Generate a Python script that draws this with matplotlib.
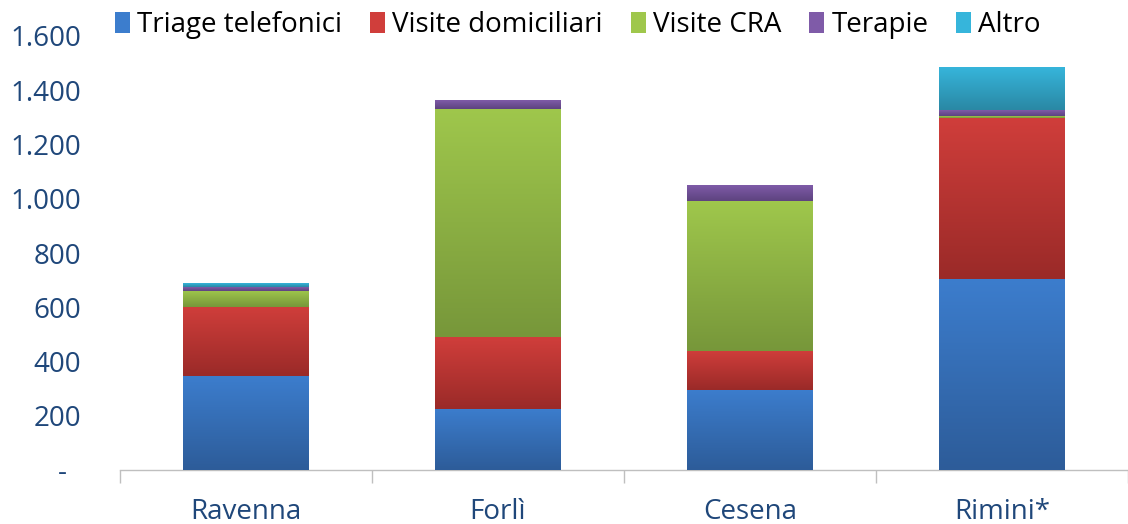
import matplotlib
matplotlib.use("Agg")
import matplotlib.pyplot as plt
import numpy as np
from matplotlib.colors import LinearSegmentedColormap
from matplotlib.patches import Patch

categories = ["Ravenna", "Forlì", "Cesena", "Rimini*"]
series_names = ["Triage telefonici", "Visite domiciliari", "Visite CRA", "Terapie", "Altro"]
triage = [346, 225, 295, 704]
visite_dom = [255, 265, 144, 595]
visite_cra = [59, 841, 552, 7]
terapie = [13, 33, 56, 22]
altro = [13, 0, 0, 157]
yticks = [0, 200, 400, 600, 800, 1000, 1200, 1400, 1600]

series = [triage, visite_dom, visite_cra, terapie, altro]
top_colors = ["#3C7DCD", "#D03E3B", "#9FC74C", "#7F5BA8", "#36B5DB"]
bot_colors = ["#2D5C99", "#9A2A28", "#77973A", "#5D437F", "#2A88A4"]

plt.rcParams['font.family'] = ['Open Sans', 'DejaVu Sans']

fig = plt.figure(figsize=(11.28, 5.24), dpi=100)
ax = fig.add_axes([120/1128, 1-470/524, 1-120/1128, (470-36)/524])

x = np.arange(len(categories))
width = 0.5
bottom = np.zeros(len(categories))
grad = np.linspace(1, 0, 256).reshape(-1, 1)
for vals, tc, bc, name in zip(series, top_colors, bot_colors, series_names):
    vals = np.array(vals, dtype=float)
    bars = ax.bar(x, vals, width, bottom=bottom, color=tc, label=name, zorder=2)
    cmap = LinearSegmentedColormap.from_list("g", [bc, tc])
    for b in bars:
        h = b.get_height()
        if h <= 0:
            continue
        x0 = b.get_x(); y0 = b.get_y()
        ax.imshow(grad, extent=(x0, x0 + b.get_width(), y0, y0 + h), cmap=cmap,
                  aspect='auto', origin='upper', zorder=3, vmin=0, vmax=1,
                  interpolation='bilinear')
    bottom += vals

ax.set_xlim(-0.5, len(categories) - 0.5)
ax.set_ylim(0, 1600)

label_color = "#1F477A"
ax.set_yticks(yticks)
ax.set_yticklabels([("-  " if v == 0 else f"{v:,}".replace(",", ".")) for v in yticks],
                   fontsize=20, color=label_color)
ax.tick_params(axis='y', length=0, pad=28)

ax.set_xticks(x)
ax.set_xticklabels(categories, fontsize=20, color=label_color)
ax.set_xticks(np.arange(-0.5, len(categories), 1.0), minor=True)
ax.tick_params(axis='x', which='major', length=0, pad=20)
ax.tick_params(axis='x', which='minor', length=9, color="#BFBFBF", width=1)

for s in ['top', 'right', 'left']:
    ax.spines[s].set_visible(False)
ax.spines['bottom'].set_color("#BFBFBF")
ax.spines['bottom'].set_linewidth(1)

handles = [Patch(facecolor=tc, edgecolor='none') for tc in top_colors]
leg = fig.legend(handles, series_names, loc='center', bbox_to_anchor=(578/1128, 1-25/524),
                 ncol=5, frameon=False, fontsize=20, handlelength=0.55, handleheight=0.8,
                 handletextpad=0.25, columnspacing=1.0)

fig.savefig("out.png", dpi=100)
